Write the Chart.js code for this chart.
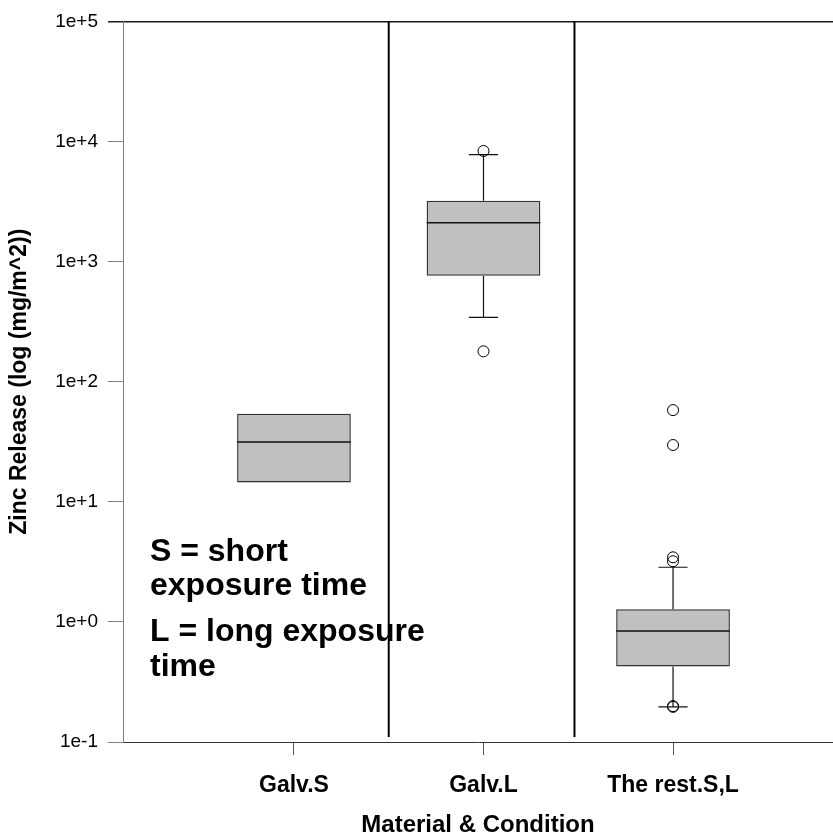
<!DOCTYPE html>
<html>
<head>
<meta charset="utf-8">
<script src="https://cdn.jsdelivr.net/npm/chart.js@4.4.1/dist/chart.umd.min.js"></script>
<style>
  html, body { margin: 0; padding: 0; background: #fff; overflow: hidden; }
  #wrap { width: 833px; height: 838px; }
</style>
</head>
<body>
<div id="wrap"><canvas id="c" width="833" height="838"></canvas></div>
<script>
// ---- data ----
const categories = ['Galv.S', 'Galv.L', 'The rest.S,L'];
const q1Values = [14.5, 761, 0.425];
const medianValues = [31.5, 2107, 0.84];
const q3Values = [54.1, 3207, 1.277];
const whiskerLow = [null, 343, 0.196];
const whiskerHigh = [null, 7770, 2.85];
const outlierValues = [[], [8340, 179], [58.0, 29.7, 3.45, 3.20, 0.196, 0.199]];
const yTickValues = [0.1, 1, 10, 100, 1000, 10000, 100000];
const yTickLabels = ['1e-1', '1e+0', '1e+1', '1e+2', '1e+3', '1e+4', '1e+5'];
const separatorPositions = [1.5, 2.48];
const separatorRange = [0.11, 100000];
const noteLines = ['S = short', 'exposure time', 'L = long exposure', 'time'];
const yTitle = 'Zinc Release (log (mg/m^2))';
const xTitle = 'Material & Condition';

const BOX_HALF = 0.3;   // half box width in category units
const CAP_HALF = 0.077; // half whisker-cap width in category units
const FONT = "'Liberation Sans', Arial, Helvetica, sans-serif";

// build box parts from the arrays
const boxData = categories.map((c, i) => ({ x: i + 1, y: [q1Values[i], q3Values[i]] }));
const gap = { x: null, y: null };
const medianData = [];
const whiskerData = [];
categories.forEach((c, i) => {
  const x = i + 1;
  medianData.push({ x: x - BOX_HALF, y: medianValues[i] }, { x: x + BOX_HALF, y: medianValues[i] }, gap);
  if (whiskerHigh[i] != null) {
    whiskerData.push({ x: x, y: q3Values[i] }, { x: x, y: whiskerHigh[i] }, gap);
    whiskerData.push({ x: x - CAP_HALF, y: whiskerHigh[i] }, { x: x + CAP_HALF, y: whiskerHigh[i] }, gap);
  }
  if (whiskerLow[i] != null) {
    whiskerData.push({ x: x, y: q1Values[i] }, { x: x, y: whiskerLow[i] }, gap);
    whiskerData.push({ x: x - CAP_HALF, y: whiskerLow[i] }, { x: x + CAP_HALF, y: whiskerLow[i] }, gap);
  }
});
const outlierData = [];
outlierValues.forEach((arr, i) => arr.forEach(v => outlierData.push({ x: i + 1, y: v })));
const separatorData = [];
separatorPositions.forEach(p => separatorData.push({ x: p, y: separatorRange[0] }, { x: p, y: separatorRange[1] }, gap));

const notePlugin = {
  id: 'note',
  beforeDatasetsDraw(chart) {
    const { ctx, chartArea } = chart;
    ctx.save();
    ctx.fillStyle = '#000';
    ctx.font = "bold 32px " + FONT;
    ctx.textBaseline = 'middle';
    ctx.textAlign = 'left';
    const offs = [531, 565, 611, 646];
    noteLines.forEach((t, i) => ctx.fillText(t, chartArea.left + 27, chartArea.top + offs[i]));
    ctx.restore();
  }
};

new Chart(document.getElementById('c'), {
  type: 'bar',
  data: {
    datasets: [
      {
        type: 'line', label: 'separators', data: separatorData,
        borderColor: '#000', borderWidth: 2, pointRadius: 0, spanGaps: false, order: 0
      },
      {
        type: 'line', label: 'outliers', data: outlierData, showLine: false,
        pointRadius: 5.5, pointBackgroundColor: 'rgba(0,0,0,0)', pointBorderColor: '#000',
        pointBorderWidth: 1, order: 1
      },
      {
        type: 'line', label: 'median', data: medianData,
        borderColor: '#111', borderWidth: 1.5, pointRadius: 0, spanGaps: false, order: 2
      },
      {
        type: 'line', label: 'whiskers', data: whiskerData,
        borderColor: '#111', borderWidth: 1.2, pointRadius: 0, spanGaps: false, order: 3
      },
      {
        type: 'bar', label: 'box', data: boxData,
        backgroundColor: '#c0c0c0', borderColor: '#333', borderWidth: 1.5, borderSkipped: false,
        categoryPercentage: 1, barPercentage: 0.6, order: 4
      }
    ]
  },
  options: {
    responsive: false,
    animation: false,
    devicePixelRatio: 1,
    layout: { autoPadding: false, padding: { top: 19, left: 0, right: 0, bottom: 0 } },
    plugins: { legend: { display: false }, tooltip: { enabled: false } },
    scales: {
      x: {
        type: 'linear', min: 0.098, max: 3.844, offset: false,
        afterFit(scale) { scale.height = 96; },
        afterBuildTicks(scale) { scale.ticks = categories.map((c, i) => ({ value: i + 1 })); },
        grid: { offset: false, drawOnChartArea: false, tickLength: 13, color: '#555', lineWidth: 1 },
        border: { color: '#333', width: 1 },
        ticks: {
          autoSkip: false, maxRotation: 0, padding: 17,
          color: '#000', font: { family: FONT, size: 23, weight: 'bold' },
          callback: (v, i) => categories[i]
        },
        title: { display: true, text: xTitle, color: '#000', padding: { top: 0, bottom: -2 },
          font: { family: FONT, size: 24, weight: 'bold' } }
      },
      y: {
        type: 'logarithmic', min: 0.1, max: 100000,
        afterFit(scale) { scale.width = 123; },
        afterBuildTicks(scale) { scale.ticks = yTickValues.map(v => ({ value: v })); },
        grid: {
          drawOnChartArea: true, tickLength: 15,
          color: c => (c.tick && c.tick.value === 100000) ? '#1a1a1a' : 'rgba(0,0,0,0)',
          tickColor: c => (c.tick && c.tick.value === 100000) ? '#1a1a1a' : '#808080',
          lineWidth: c => (c.tick && c.tick.value === 100000) ? 1.5 : 1
        },
        border: { color: '#808080', width: 1 },
        ticks: {
          padding: 10, color: '#000', font: { family: FONT, size: 19 },
          callback: (v, i) => yTickLabels[i]
        },
        title: { display: true, text: yTitle, color: '#000', padding: { top: 6, bottom: 0 },
          font: { family: FONT, size: 23, weight: 'bold' } }
      }
    }
  },
  plugins: [notePlugin]
});
</script>
</body>
</html>
